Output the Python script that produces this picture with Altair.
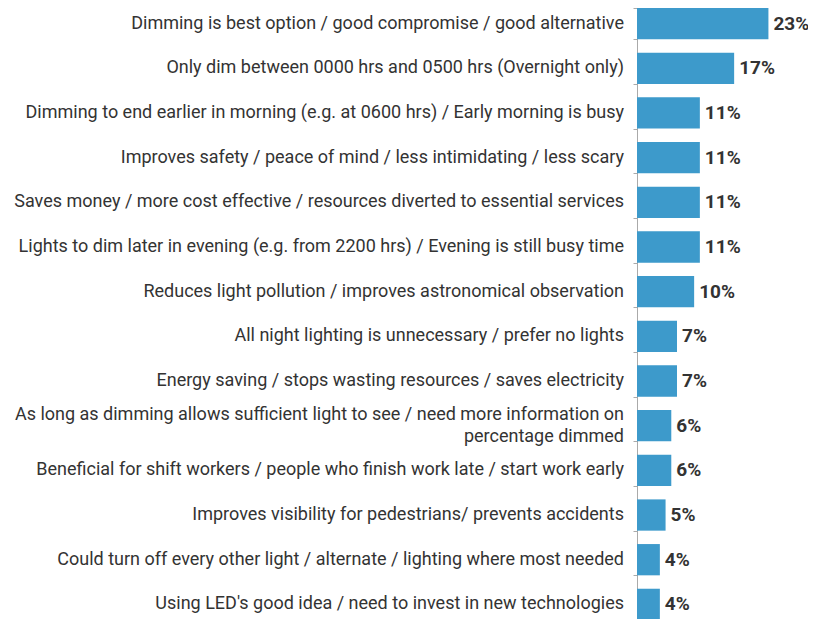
import altair as alt
import pandas as pd

labels = [
    "Dimming is best option / good compromise / good alternative",
    "Only dim between 0000 hrs and 0500 hrs (Overnight only)",
    "Dimming to end earlier in morning (e.g. at 0600 hrs) / Early morning is busy",
    "Improves safety  / peace of mind / less intimidating / less scary",
    "Saves money / more cost effective / resources diverted to essential services",
    "Lights to dim later in evening (e.g. from 2200 hrs) /  Evening is still busy time",
    "Reduces light pollution / improves astronomical observation",
    "All night lighting is unnecessary  / prefer no lights",
    "Energy saving / stops wasting resources / saves electricity",
    "As long as dimming allows sufficient light to see / need more information on|percentage dimmed",
    "Beneficial for shift workers / people who finish work late / start work early",
    "Improves visibility for pedestrians/ prevents accidents",
    "Could turn off every other light / alternate / lighting where most needed",
    "Using LED's good idea / need to invest in new technologies",
]
values = [23, 17, 11, 11, 11, 11, 10, 7, 7, 6, 6, 5, 4, 4]

H = 612
PAD_INNER = 0.3
step = H / (len(labels) - PAD_INNER)
half_band = step * (1 - PAD_INNER) / 2

df = pd.DataFrame({"label": labels, "value": values})
df["text"] = df["value"].astype(str) + "%"

# one row per label line
rows = []
for lab in labels:
    parts = lab.split("|")
    n = len(parts)
    for i, p in enumerate(parts):
        rows.append({"label": lab, "line": p, "off": half_band + (i - (n - 1) / 2) * 22})
lab_df = pd.DataFrame(rows)

y = alt.Y(
    "label:N",
    sort=labels,
    scale=alt.Scale(paddingInner=PAD_INNER, paddingOuter=0),
    axis=alt.Axis(
        title=None,
        labels=False,
        tickBand="extent",
        tickSize=4,
        tickColor="#aaaaaa",
        domainColor="#aaaaaa",
        domainWidth=1,
    ),
)

x = alt.X("value:Q", scale=alt.Scale(domain=[0, 28]), axis=None)

bars = alt.Chart(df).mark_bar(color="#3d9acb").encode(y=y, x=x)
txt = alt.Chart(df).mark_text(
    align="left", baseline="middle", dx=5, font="Roboto", fontSize=19,
    fontWeight="bold", color="#333333"
).encode(y=y, x=x, text="text:N")

cat_labels = alt.Chart(lab_df).mark_text(
    align="right", baseline="middle", font="Roboto", fontSize=18, color="#333333"
).encode(
    y=y,
    yOffset=alt.YOffset("off:Q", scale=None),
    x=alt.value(-13),
    text="line:N",
)

chart = (bars + txt + cat_labels).properties(
    width=160,
    height=H,
    autosize=alt.AutoSizeParams(type="none"),
    padding={"left": 629, "top": 0, "right": 11, "bottom": 0},
).configure_view(stroke=None)

chart.save("out.html", embed_options={"renderer": "svg", "actions": False})
